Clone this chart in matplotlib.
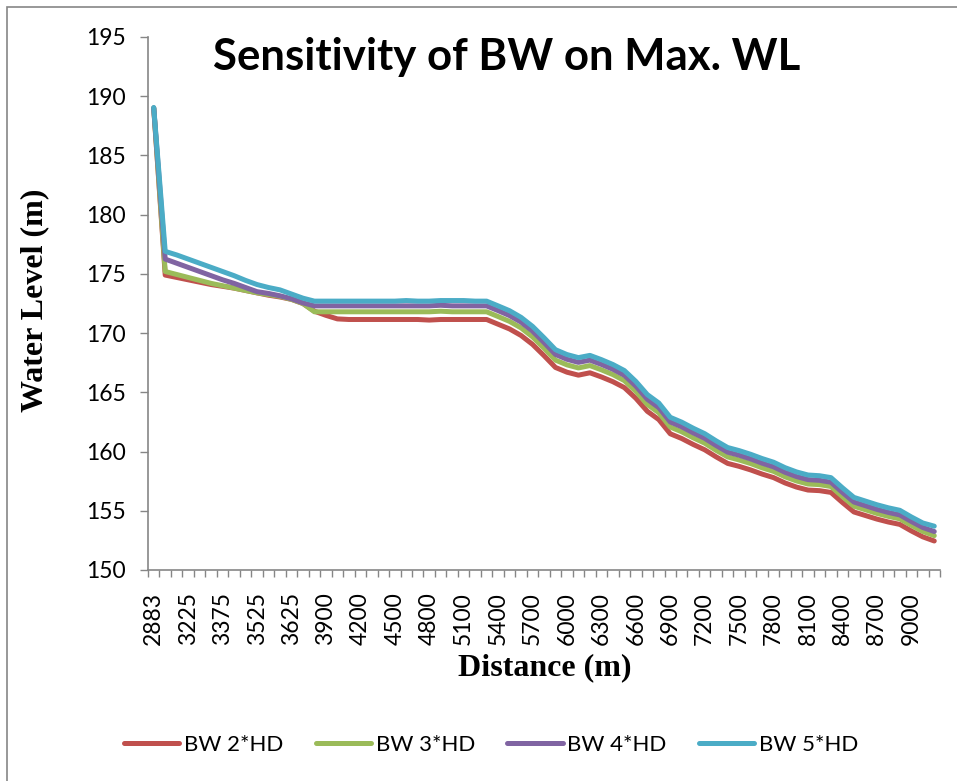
import matplotlib
matplotlib.use("Agg")
import numpy as np
from matplotlib import pyplot as plt
from matplotlib.patches import Rectangle

# chainage of each cross section (m); only every third one is labelled
distance = [
    2883, 3000, 3125, 3225, 3275, 3325, 3375, 3425, 3475, 3525, 3550, 3600,
    3625, 3700, 3800, 3900, 4000, 4100, 4200, 4300, 4400, 4500, 4600, 4700,
    4800, 4900, 5000, 5100, 5200, 5300, 5400, 5500, 5600, 5700, 5800, 5900,
    6000, 6100, 6200, 6300, 6400, 6500, 6600, 6700, 6800, 6900, 7000, 7100,
    7200, 7300, 7400, 7500, 7600, 7700, 7800, 7900, 8000, 8100, 8200, 8300,
    8400, 8500, 8600, 8700, 8800, 8900, 9000, 9100, 9200,
]

# maximum water level (m) for each bottom width
bw_2hd = [
    189.00, 174.90, 174.70, 174.50, 174.30, 174.10, 173.95, 173.80, 173.60,
    173.40, 173.20, 173.05, 172.85, 172.50, 171.85, 171.50, 171.20, 171.15,
    171.15, 171.15, 171.15, 171.15, 171.15, 171.15, 171.10, 171.15, 171.15,
    171.15, 171.15, 171.15, 170.75, 170.35, 169.80, 169.05, 168.10, 167.10,
    166.70, 166.45, 166.65, 166.30, 165.90, 165.40, 164.50, 163.40, 162.70,
    161.50, 161.10, 160.60, 160.15, 159.55, 159.00, 158.75, 158.45, 158.10,
    157.80, 157.35, 157.00, 156.75, 156.70, 156.55, 155.70, 154.90, 154.60,
    154.30, 154.05, 153.85, 153.30, 152.80, 152.45,
]
bw_3hd = [
    189.00, 175.20, 174.95, 174.70, 174.45, 174.20, 174.00, 173.80, 173.60,
    173.40, 173.25, 173.10, 172.85, 172.50, 171.80, 171.80, 171.80, 171.80,
    171.80, 171.80, 171.80, 171.80, 171.80, 171.80, 171.80, 171.85, 171.80,
    171.80, 171.80, 171.80, 171.40, 170.99, 170.44, 169.68, 168.73, 167.72,
    167.32, 167.06, 167.26, 166.90, 166.50, 165.99, 165.09, 163.98, 163.28,
    162.07, 161.67, 161.16, 160.71, 160.10, 159.55, 159.29, 158.99, 158.63,
    158.33, 157.87, 157.52, 157.26, 157.21, 157.05, 156.20, 155.39, 155.09,
    154.78, 154.53, 154.32, 153.77, 153.26, 152.90,
]
bw_4hd = [
    189.00, 176.25, 175.90, 175.55, 175.20, 174.85, 174.50, 174.20, 173.85,
    173.50, 173.35, 173.15, 172.90, 172.55, 172.30, 172.30, 172.30, 172.30,
    172.30, 172.30, 172.30, 172.30, 172.30, 172.30, 172.30, 172.35, 172.30,
    172.30, 172.30, 172.30, 171.90, 171.48, 170.93, 170.17, 169.21, 168.20,
    167.79, 167.53, 167.72, 167.36, 166.95, 166.44, 165.53, 164.42, 163.71,
    162.50, 162.09, 161.58, 161.12, 160.51, 159.95, 159.69, 159.38, 159.02,
    158.71, 158.25, 157.89, 157.63, 157.57, 157.41, 156.55, 155.74, 155.43,
    155.12, 154.86, 154.65, 154.10, 153.59, 153.25,
]
bw_5hd = [
    189.05, 176.90, 176.60, 176.25, 175.90, 175.55, 175.20, 174.85, 174.45,
    174.10, 173.85, 173.65, 173.30, 172.95, 172.70, 172.70, 172.70, 172.70,
    172.70, 172.70, 172.70, 172.70, 172.75, 172.70, 172.70, 172.75, 172.75,
    172.75, 172.70, 172.70, 172.30, 171.89, 171.33, 170.57, 169.61, 168.60,
    168.19, 167.93, 168.12, 167.76, 167.35, 166.84, 165.92, 164.81, 164.10,
    162.89, 162.48, 161.97, 161.51, 160.90, 160.34, 160.08, 159.77, 159.41,
    159.10, 158.64, 158.28, 158.02, 157.96, 157.80, 156.94, 156.13, 155.82,
    155.51, 155.25, 155.04, 154.48, 153.97, 153.70,
]

series = [
    ("BW 2*HD", bw_2hd, "#C0504D"),
    ("BW 3*HD", bw_3hd, "#9BBB59"),
    ("BW 4*HD", bw_4hd, "#8064A2"),
    ("BW 5*HD", bw_5hd, "#4BACC6"),
]

AXIS_GREY = "#868686"
TICK_FONT = "Lato"

W, H = 957, 781
fig = plt.figure(figsize=(W / 100, H / 100), dpi=100)
ax = fig.add_axes([148 / W, 1 - 570 / H, (940 - 148) / W, (570 - 37) / H])

x = np.arange(len(distance))
for name, values, color in series:
    ax.plot(x, values, color=color, lw=3.6, label=name, solid_capstyle="round",
            solid_joinstyle="round")

ax.set_xlim(-0.5, len(distance) - 0.5)
ax.set_ylim(150, 195)
ax.set_yticks(np.arange(150, 196, 5))

# category labels every third section, tick marks between categories
ax.set_xticks(x[::3])
ax.set_xticklabels([str(d) for d in distance[::3]], rotation=90,
                   fontsize=16.5, family=TICK_FONT)
ax.set_xticks(np.arange(-0.5, len(distance), 1), minor=True)
ax.tick_params(axis="x", which="major", length=0, pad=16)
ax.tick_params(axis="x", which="minor", length=5, width=1, color=AXIS_GREY,
               direction="out")
ax.tick_params(axis="y", length=6, width=1, color=AXIS_GREY, pad=10)
for lbl in ax.get_yticklabels():
    lbl.set_fontsize(16.5)
    lbl.set_family(TICK_FONT)

for side in ("top", "right"):
    ax.spines[side].set_visible(False)
for side in ("left", "bottom"):
    ax.spines[side].set_color(AXIS_GREY)
    ax.spines[side].set_linewidth(1.2)

fig.text(507 / W, 1 - 57 / H, "Sensitivity of BW on Max. WL", ha="center",
         va="center", fontsize=31.5, fontweight="bold", family=TICK_FONT)
fig.text(35 / W, 1 - 300 / H, "Water Level (m)", rotation=90, ha="center",
         va="center", fontsize=23, fontweight="bold", family="Liberation Serif")
fig.text(545 / W, 1 - 668 / H, "Distance (m)", ha="center", va="center",
         fontsize=23, fontweight="bold", family="Liberation Serif")

fig.legend(loc="center", bbox_to_anchor=(491 / W, 1 - 745 / H), ncol=4,
           frameon=False, handlelength=2.5, handletextpad=0.2,
           columnspacing=1.45, prop={"family": TICK_FONT, "size": 16})

# chart area border
fig.add_artist(Rectangle((7 / W, -0.05), 1.2, 1 - 7 / H + 0.05,
                         transform=fig.transFigure, fill=False,
                         edgecolor=AXIS_GREY, lw=1.2))

fig.savefig("out.png", dpi=100, facecolor="white")
